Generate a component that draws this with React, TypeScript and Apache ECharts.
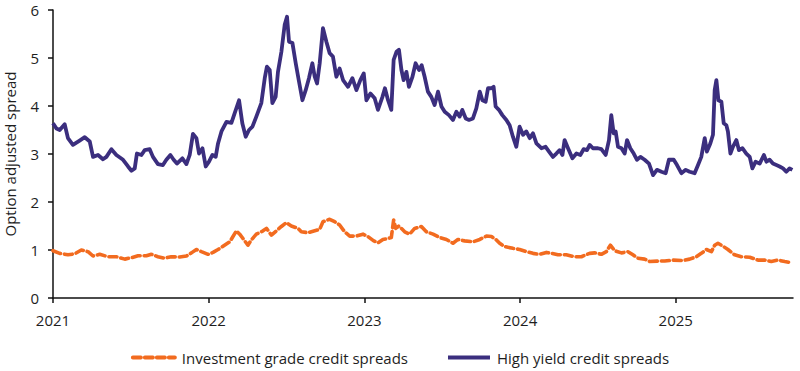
import { useEffect, useRef } from "react";
import * as echarts from "echarts";

const yearTicks = [2021, 2022, 2023, 2024, 2025];
const seriesNames = ["Investment grade credit spreads", "High yield credit spreads"];
const yAxisTitle = "Option adjusted spread";

// High yield credit spreads (decimal year, %)
const hyYears = [
  2021.0, 2021.022, 2021.043, 2021.075, 2021.096, 2021.128, 2021.171, 2021.204, 2021.236, 2021.257,
  2021.289, 2021.321, 2021.343, 2021.375, 2021.407, 2021.45, 2021.482, 2021.504, 2021.525, 2021.539,
  2021.568, 2021.589, 2021.621, 2021.642, 2021.674, 2021.706, 2021.728, 2021.754, 2021.775, 2021.796,
  2021.831, 2021.857, 2021.878, 2021.899, 2021.921, 2021.938, 2021.96, 2021.981, 2022.002, 2022.024,
  2022.045, 2022.06, 2022.082, 2022.114, 2022.146, 2022.167, 2022.195, 2022.216, 2022.238, 2022.259,
  2022.281, 2022.306, 2022.338, 2022.36, 2022.374, 2022.392, 2022.409, 2022.43, 2022.445, 2022.467,
  2022.488, 2022.503, 2022.516, 2022.538, 2022.559, 2022.58, 2022.602, 2022.623, 2022.644, 2022.666,
  2022.681, 2022.696, 2022.713, 2022.734, 2022.756, 2022.777, 2022.798, 2022.82, 2022.841, 2022.863,
  2022.895, 2022.923, 2022.949, 2022.974, 2022.996, 2023.013, 2023.039, 2023.066, 2023.087, 2023.116,
  2023.132, 2023.152, 2023.173, 2023.188, 2023.206, 2023.222, 2023.238, 2023.252, 2023.27, 2023.286,
  2023.308, 2023.329, 2023.351, 2023.368, 2023.387, 2023.408, 2023.43, 2023.451, 2023.473, 2023.495,
  2023.516, 2023.543, 2023.569, 2023.591, 2023.612, 2023.629, 2023.651, 2023.672, 2023.697, 2023.719,
  2023.741, 2023.758, 2023.779, 2023.794, 2023.816, 2023.83, 2023.843, 2023.864, 2023.886, 2023.912,
  2023.933, 2023.954, 2023.976, 2023.997, 2024.019, 2024.04, 2024.062, 2024.083, 2024.105, 2024.137,
  2024.164, 2024.186, 2024.211, 2024.233, 2024.254, 2024.272, 2024.286, 2024.308, 2024.336, 2024.362,
  2024.387, 2024.408, 2024.43, 2024.447, 2024.468, 2024.5, 2024.522, 2024.55, 2024.571, 2024.586,
  2024.601, 2024.614, 2024.629, 2024.651, 2024.672, 2024.687, 2024.708, 2024.73, 2024.751, 2024.773,
  2024.8, 2024.828, 2024.854, 2024.879, 2024.908, 2024.935, 2024.956, 2024.987, 2025.008, 2025.036,
  2025.064, 2025.089, 2025.121, 2025.143, 2025.164, 2025.186, 2025.2, 2025.222, 2025.239, 2025.25,
  2025.261, 2025.274, 2025.293, 2025.308, 2025.325, 2025.335, 2025.351, 2025.367, 2025.389, 2025.406,
  2025.428, 2025.453, 2025.475, 2025.492, 2025.513, 2025.539, 2025.566, 2025.582, 2025.603, 2025.624,
  2025.646, 2025.667, 2025.689, 2025.71, 2025.731, 2025.749,
];
const hyValues = [
  3.64, 3.53, 3.5, 3.62, 3.33, 3.19, 3.28, 3.35, 3.26, 2.94,
  2.98, 2.89, 2.94, 3.1, 2.98, 2.88, 2.74, 2.65, 2.7, 3.01,
  2.98, 3.08, 3.1, 2.94, 2.79, 2.77, 2.88, 2.98, 2.88, 2.8,
  2.91, 2.79, 2.98, 3.42, 3.33, 3.01, 3.12, 2.74, 2.84, 2.98,
  2.94, 3.22, 3.47, 3.67, 3.65, 3.85, 4.12, 3.64, 3.36, 3.5,
  3.57, 3.78, 4.06, 4.58, 4.82, 4.75, 4.06, 4.19, 4.71, 5.13,
  5.69, 5.86, 5.34, 5.31, 4.89, 4.51, 4.12, 4.33, 4.58, 4.89,
  4.61, 4.47, 4.89, 5.62, 5.34, 5.1, 5.03, 4.61, 4.78, 4.54,
  4.4, 4.58, 4.33, 4.54, 4.68, 4.12, 4.26, 4.16, 3.92, 4.19,
  4.37, 4.12, 3.92, 4.96, 5.13, 5.17, 4.75, 4.54, 4.71, 4.4,
  4.6, 4.89, 4.75, 4.85, 4.61, 4.3, 4.19, 4.02, 4.3, 3.99,
  3.88, 3.81, 3.71, 3.88, 3.78, 3.92, 3.74, 3.71, 3.74, 3.95,
  4.3, 4.12, 4.09, 4.37, 4.37, 4.4, 3.99, 3.92, 3.81, 3.71,
  3.6, 3.36, 3.15, 3.57, 3.4, 3.47, 3.33, 3.43, 3.22, 3.12,
  3.15, 3.05, 2.94, 3.01, 3.08, 2.98, 3.29, 3.12, 2.91, 3.01,
  2.98, 3.1, 3.08, 3.19, 3.12, 3.12, 3.1, 2.98, 3.29, 3.81,
  3.43, 3.47, 3.15, 3.12, 3.01, 3.29, 3.12, 3.01, 2.88, 2.94,
  2.88, 2.8, 2.56, 2.67, 2.63, 2.6, 2.88, 2.88, 2.77, 2.6,
  2.67, 2.63, 2.6, 2.77, 2.94, 3.33, 3.05, 3.22, 3.4, 4.33,
  4.54, 4.12, 4.09, 3.64, 3.6, 3.47, 3.01, 3.15, 3.29, 3.08,
  3.12, 3.01, 2.94, 2.7, 2.84, 2.8, 2.98, 2.84, 2.88, 2.8,
  2.77, 2.74, 2.7, 2.63, 2.7, 2.67,
];

// Investment grade credit spreads (decimal year, %)
const igYears = [
  2021.0, 2021.043, 2021.096, 2021.139, 2021.182, 2021.225, 2021.257, 2021.3, 2021.353, 2021.407,
  2021.461, 2021.504, 2021.546, 2021.6, 2021.632, 2021.674, 2021.717, 2021.76, 2021.814, 2021.857,
  2021.889, 2021.921, 2021.953, 2021.996, 2022.028, 2022.06, 2022.092, 2022.135, 2022.156, 2022.178,
  2022.199, 2022.22, 2022.252, 2022.274, 2022.306, 2022.349, 2022.371, 2022.403, 2022.435, 2022.467,
  2022.499, 2022.531, 2022.574, 2022.595, 2022.638, 2022.681, 2022.713, 2022.734, 2022.777, 2022.809,
  2022.841, 2022.873, 2022.906, 2022.949, 2022.991, 2023.023, 2023.06, 2023.087, 2023.119, 2023.152,
  2023.173, 2023.188, 2023.201, 2023.222, 2023.259, 2023.291, 2023.323, 2023.366, 2023.398, 2023.441,
  2023.484, 2023.527, 2023.569, 2023.601, 2023.644, 2023.697, 2023.741, 2023.784, 2023.816, 2023.848,
  2023.869, 2023.901, 2023.954, 2023.997, 2024.04, 2024.083, 2024.126, 2024.169, 2024.201, 2024.243,
  2024.297, 2024.351, 2024.394, 2024.447, 2024.479, 2024.522, 2024.554, 2024.58, 2024.608, 2024.651,
  2024.693, 2024.725, 2024.757, 2024.8, 2024.832, 2024.886, 2024.929, 2024.982, 2025.046, 2025.089,
  2025.132, 2025.164, 2025.197, 2025.229, 2025.25, 2025.271, 2025.303, 2025.335, 2025.378, 2025.421,
  2025.475, 2025.528, 2025.571, 2025.614, 2025.656, 2025.7, 2025.742,
];
const igValues = [
  0.985, 0.93, 0.9, 0.92, 1.0, 0.965, 0.875, 0.91, 0.86, 0.86,
  0.81, 0.84, 0.88, 0.88, 0.91, 0.86, 0.83, 0.86, 0.855, 0.875,
  0.94, 1.01, 0.965, 0.91, 0.95, 1.01, 1.08, 1.17, 1.28, 1.4,
  1.33, 1.24, 1.1, 1.21, 1.33, 1.4, 1.45, 1.31, 1.4, 1.49,
  1.57, 1.5, 1.45, 1.38, 1.36, 1.4, 1.43, 1.59, 1.64, 1.59,
  1.52, 1.38, 1.29, 1.29, 1.33, 1.28, 1.19, 1.15, 1.22, 1.24,
  1.26, 1.625, 1.45, 1.5, 1.38, 1.33, 1.45, 1.49, 1.38, 1.33,
  1.26, 1.22, 1.14, 1.22, 1.19, 1.17, 1.22, 1.29, 1.28, 1.21,
  1.14, 1.07, 1.035, 1.01, 0.965, 0.93, 0.91, 0.95, 0.93, 0.9,
  0.9, 0.86, 0.86, 0.93, 0.94, 0.91, 0.965, 1.1, 0.985, 0.94,
  0.965, 0.9, 0.83, 0.81, 0.76, 0.77, 0.77, 0.79, 0.78, 0.81,
  0.86, 0.93, 1.01, 0.965, 1.1, 1.14, 1.08, 1.01, 0.9, 0.86,
  0.85, 0.79, 0.79, 0.76, 0.79, 0.76, 0.735,
];

const xMin = 2021;
const xMax = 2025.753;

const ORANGE = "#f26b1f";
const PURPLE = "#3b2e7e";
const TEXT = "#1e1e1e";
const FONT = "'Open Sans', 'Noto Sans', sans-serif";

export default function App() {
  const ref = useRef<HTMLDivElement>(null);

  useEffect(() => {
    document.body.style.margin = "0";
    if (!ref.current) return;
    const chart = echarts.init(ref.current, undefined, { renderer: "svg" });
    const igData = igYears.map((x, i) => [x, igValues[i]]);
    const hyData = hyYears.map((x, i) => [x, hyValues[i]]);
    chart.setOption({
      animation: false,
      textStyle: { fontFamily: FONT, color: TEXT },
      grid: {
        left: 53,
        right: 7,
        top: 10,
        bottom: 73,
        containLabel: false,
        outerBoundsMode: "none",
      },
      legend: {
        left: "center",
        top: 345,
        itemWidth: 42,
        itemHeight: 14,
        itemGap: 38,
        itemStyle: { opacity: 0 },
        lineStyle: { width: 4 },
        textStyle: { fontFamily: FONT, fontSize: 15, color: TEXT, padding: [0, 0, 0, 2] },
        data: seriesNames,
      },
      xAxis: {
        type: "value",
        min: xMin,
        max: xMax,
        axisLine: { show: true, lineStyle: { color: "#111", width: 1.5 } },
        axisTick: {
          show: true,
          length: 5,
          customValues: yearTicks,
          lineStyle: { color: "#111", width: 1.5 },
        },
        axisLabel: {
          customValues: yearTicks,
          formatter: (v: number) => String(Math.round(v)),
          fontFamily: FONT,
          fontSize: 15,
          color: TEXT,
          margin: 14,
        },
        splitLine: { show: false },
      },
      yAxis: {
        type: "value",
        min: 0,
        max: 6,
        interval: 1,
        name: yAxisTitle,
        nameLocation: "middle",
        nameGap: 36,
        nameTextStyle: { fontFamily: FONT, fontSize: 15, color: TEXT },
        axisLine: { show: true, lineStyle: { color: "#111", width: 1.5 } },
        axisTick: { show: true, length: 5, lineStyle: { color: "#111", width: 1.5 } },
        axisLabel: { fontFamily: FONT, fontSize: 15, color: TEXT, margin: 14 },
        splitLine: { show: false },
      },
      series: [
        {
          name: seriesNames[0],
          type: "line",
          data: igData,
          symbol: "none",
          color: ORANGE,
          lineStyle: { color: ORANGE, width: 3.6, type: [8, 4], cap: "round", join: "round" },
          z: 3,
        },
        {
          name: seriesNames[1],
          type: "line",
          data: hyData,
          symbol: "none",
          color: PURPLE,
          lineStyle: { color: PURPLE, width: 3.8, join: "round" },
          z: 2,
        },
      ],
    });
    return () => chart.dispose();
  }, []);

  return <div ref={ref} style={{ width: 800, height: 371 }} />;
}
